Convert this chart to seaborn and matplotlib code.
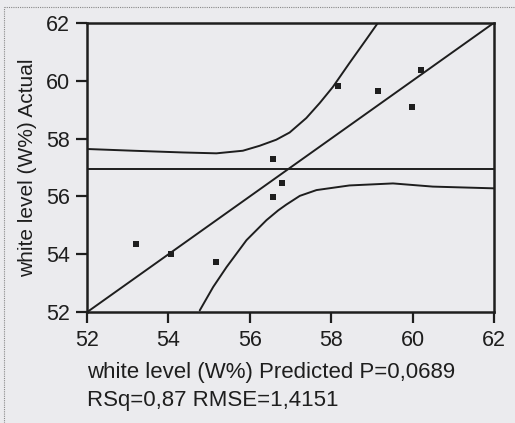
import numpy as np
import pandas as pd
import seaborn as sns
import matplotlib.pyplot as plt
from matplotlib.lines import Line2D

sns.set_style("white")
plt.rcParams["font.family"] = ["Liberation Sans", "DejaVu Sans"]

# points
predicted = [56.57, 56.78, 56.57, 58.18, 59.14, 59.99, 60.20, 53.21, 54.07, 55.18]
actual = [57.29, 56.45, 55.99, 59.80, 59.66, 59.09, 60.38, 54.34, 54.00, 53.74]

mean_actual = 56.94

# confidence curves
upper_x = [52.0, 53.13, 54.36, 55.18, 55.83, 56.24, 56.65, 56.98, 57.39, 57.72, 58.04, 58.45, 58.86, 59.15]
upper_y = [57.64, 57.58, 57.52, 57.49, 57.58, 57.75, 57.96, 58.21, 58.71, 59.23, 59.78, 60.61, 61.42, 62.0]
lower_x = [54.77, 55.10, 55.43, 55.92, 56.41, 56.70, 56.90, 57.23, 57.64, 58.45, 59.52, 60.50, 62.0]
lower_y = [52.06, 52.87, 53.56, 54.49, 55.18, 55.52, 55.72, 56.02, 56.22, 56.38, 56.45, 56.34, 56.28]

fit_x = [52, 62]
fit_y = [52, 62]

ticks = [52, 54, 56, 58, 60, 62]

bg = "#ebebee"
ink = "#1e1e1e"

fig = plt.figure(figsize=(5.15, 4.23), dpi=100, facecolor=bg)
ax = fig.add_axes([0.169, 0.262, 0.790, 0.684])
ax.set_facecolor(bg)

pts = pd.DataFrame({"pred": predicted, "act": actual})
line_kw = dict(color=ink, linewidth=1.4, estimator=None, sort=False, legend=False)
sns.lineplot(x=fit_x, y=fit_y, ax=ax, **line_kw)
sns.lineplot(x=upper_x, y=upper_y, ax=ax, **line_kw)
sns.lineplot(x=lower_x, y=lower_y, ax=ax, **line_kw)
ax.axhline(mean_actual, color=ink, linewidth=1.4)
sns.scatterplot(data=pts, x="pred", y="act", marker="s", s=24, color=ink,
                edgecolor=ink, linewidth=0, ax=ax, zorder=5)

ax.set_xlim(52, 62)
ax.set_ylim(52, 62)
ax.set_xticks(ticks)
ax.set_yticks(ticks)
ax.tick_params(direction="out", length=8, width=1.6, colors=ink,
               labelsize=15.5, pad=4.5, bottom=True, left=True)
for s in ax.spines.values():
    s.set_color(ink)
    s.set_linewidth(1.8)

ax.set_ylabel("white level (W%) Actual", fontsize=15, color=ink, labelpad=6)
ax.set_xlabel("white level (W%) Predicted P=0,0689\nRSq=0,87 RMSE=1,4151",
              fontsize=16, color=ink, x=0.0, ha="left",
              linespacing=1.45, labelpad=8)

# dotted frame of the report page
fig.add_artist(Line2D([0.008, 1.0], [1 - 7 / 423] * 2, transform=fig.transFigure,
                      color="#888888", linewidth=0.8, linestyle=(0, (1, 1))))
fig.add_artist(Line2D([0.008, 0.008], [0.0, 1 - 7 / 423], transform=fig.transFigure,
                      color="#888888", linewidth=0.8, linestyle=(0, (1, 1))))

fig.savefig("out.png", dpi=100, facecolor=bg)
